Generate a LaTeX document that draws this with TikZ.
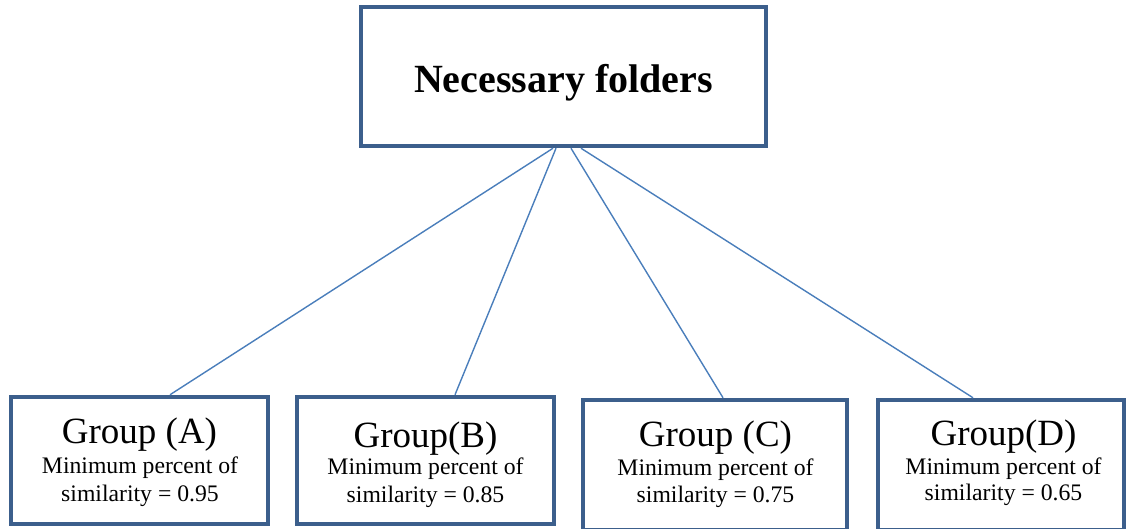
\documentclass[tikz,border=0pt]{standalone}
\usepackage{fontspec}
\setmainfont{Liberation Serif}
\usetikzlibrary{calc}
\definecolor{boxblue}{RGB}{60,95,140}
\definecolor{lineblue}{RGB}{74,126,187}
\tikzset{
  box/.style={draw=boxblue, line width=4.5pt, rectangle, inner sep=0pt, fill=white},
  conn/.style={draw=lineblue, line width=1.4pt},
  grp/.style={anchor=base, inner sep=0pt, font=\fontsize{37}{40}\selectfont},
  sub/.style={anchor=base, inner sep=0pt, font=\fontsize{23.7}{27}\selectfont},
  ttl/.style={anchor=base, inner sep=0pt, font=\fontsize{40}{44}\selectfont\bfseries}
}
\begin{document}
\begin{tikzpicture}[x=1pt,y=-1pt]
\useasboundingbox (0,0) rectangle (1130,529);
% boxes
\node[box, minimum width=405pt, minimum height=139pt] (top) at (563.5,76.5) {};
\node[box, minimum width=257pt, minimum height=127pt] (A) at (139.5,460.5) {};
\node[box, minimum width=257pt, minimum height=127pt] (B) at (425.5,460.5) {};
\node[box, minimum width=264pt, minimum height=130pt] (C) at (715,465) {};
\node[box, minimum width=246pt, minimum height=130pt] (D) at (1001,465) {};
% connectors
\draw[conn] (top.south -| 553,0) -- (A.north -| 170,0);
\draw[conn] (top.south -| 556,0) -- (B.north -| 455,0);
\draw[conn] (top.south -| 571,0) -- (C.north -| 723,0);
\draw[conn] (top.south -| 581,0) -- (D.north -| 973,0);
% texts
\node[ttl] (ttl) at (563.5,93) {Necessary folders};
\node[grp] (gA) at (139.5,443) {Group (A)};
\node[sub] (mA) at (140,473) {Minimum percent of};
\node[sub] (sA) at (140,501) {similarity = 0.95};
\node[grp] (gB) at (425.5,447) {Group(B)};
\node[sub] (mB) at (425.5,474) {Minimum percent of};
\node[sub] (sB) at (425.5,502) {similarity = 0.85};
\node[grp] (gC) at (715.5,446) {Group (C)};
\node[sub] (mC) at (715.5,475) {Minimum percent of};
\node[sub] (sC) at (715.5,502) {similarity = 0.75};
\node[grp] (gD) at (1003.5,445) {Group(D)};
\node[sub] (mD) at (1003.5,474) {Minimum percent of};
\node[sub] (sD) at (1003.5,500) {similarity = 0.65};
\end{tikzpicture}
\end{document}
